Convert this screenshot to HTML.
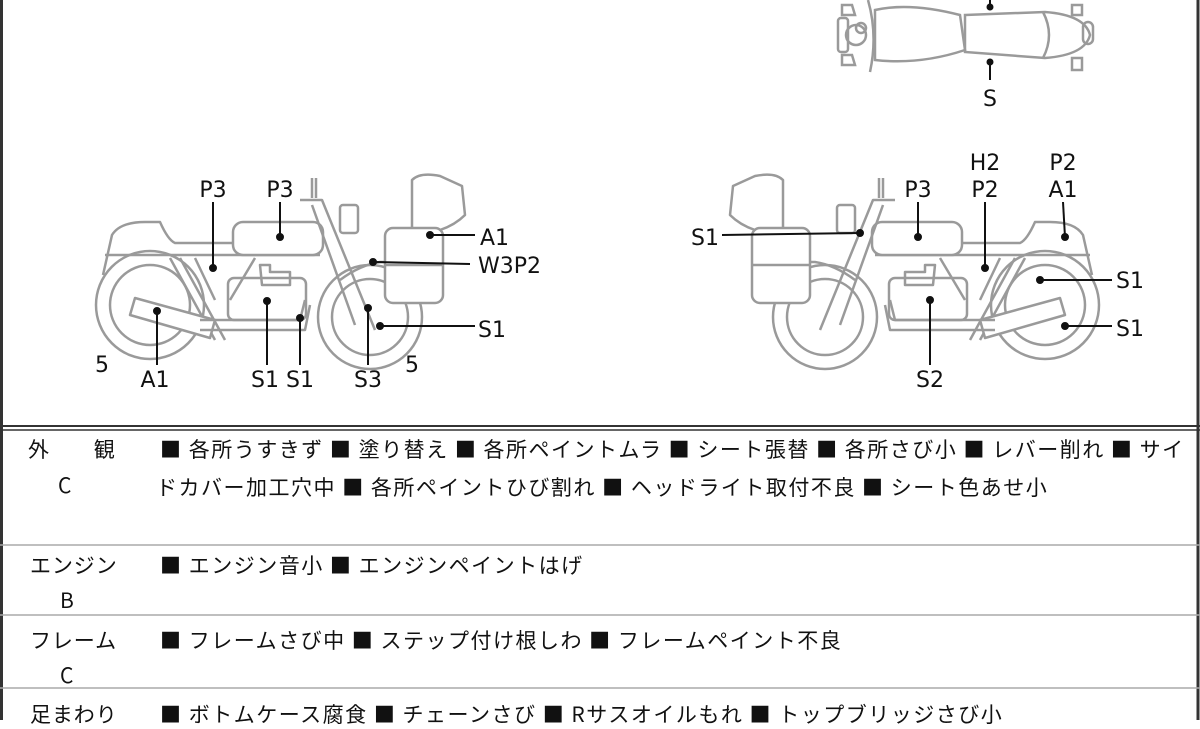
<!DOCTYPE html>
<html><head><meta charset="utf-8"><style>
body{margin:0;width:1200px;height:720px;overflow:hidden;background:#fff;font-family:"Liberation Sans","Noto Sans CJK JP",sans-serif;}
.t{position:absolute;font-size:21px;color:#111;white-space:nowrap;line-height:1;font-family:"Noto Sans CJK JP",sans-serif;letter-spacing:1.5px;}
.l{letter-spacing:0.9px;}
</style></head><body>
<svg width="1200" height="720" style="position:absolute;left:0;top:0" font-family="DejaVu Sans, sans-serif">
<defs>
<g id="bike" fill="none" stroke="#9a9a9a" stroke-width="2.5" stroke-linejoin="round">
 <circle cx="150" cy="305" r="54"/><circle cx="150" cy="305" r="40"/>
 <circle cx="370" cy="317" r="52"/><circle cx="370" cy="317" r="38"/>
 <path d="M103,275 L112,235 Q120,222 145,222 L160,222 Q168,240 175,243 L233,243"/>
 <path d="M105,255 L320,255"/>
 <rect x="233" y="222" width="90" height="33" rx="10" fill="#fff"/>
 <path d="M300,200 L322,200 L375,330" />
 <path d="M312,205 L355,325"/>
 <rect x="340" y="205" width="18" height="28" rx="3"/>
 <path d="M312,198 L312,178 M316,198 L316,178"/>
 <path d="M170,258 L215,340 M180,258 L225,340 M195,258 L215,300 M255,258 L230,300"/>
 <rect x="228" y="278" width="78" height="42" rx="6"/>
 <path d="M260,265 L270,265 L270,272 L290,272 L290,285 L262,285 Z"/>
 <path d="M135,298 L215,320 L210,338 L130,315 Z" fill="#fff"/>
 <path d="M200,320 L300,320 L305,300 M200,330 L305,330 L310,305"/>
 <path d="M340,280 Q360,265 380,262 L395,262"/>
 <path d="M412,180 Q420,172 440,176 L462,186 L465,215 Q455,225 440,230 L412,230 Z"/>
 <rect x="385" y="228" width="58" height="75" rx="8" fill="#fff"/>
 <path d="M385,265 L443,265"/>
</g>
</defs>
<use href="#bike"/>
<use href="#bike" transform="translate(1195,0) scale(-1,1)"/>
<g fill="none" stroke="#9a9a9a" stroke-width="2.5">
 <path d="M875,10 Q910,2 960,15 L965,50 Q920,65 875,60 Z"/>
 <path d="M965,15 L1045,12 Q1085,15 1090,35 Q1085,55 1045,58 L965,52 Z"/>
 <path d="M1043,12 Q1055,35 1043,58"/>
 <rect x="1083" y="22" width="10" height="22" rx="5"/>
 <circle cx="856" cy="35" r="10"/><circle cx="861" cy="28" r="5"/>
 <rect x="838" y="18" width="10" height="34" rx="3"/>
 <path d="M868,0 Q878,35 870,72"/>
 <path d="M842,5 L852,5 L855,15 L842,15 Z M842,55 L852,55 L855,65 L842,65 Z"/>
 <path d="M1072,5 L1082,5 L1082,15 L1072,15 Z M1072,58 L1082,58 L1082,70 L1072,70 Z"/>
</g>
<g stroke="#111" stroke-width="2" fill="#111">
 <line x1="990" y1="0" x2="990" y2="8"/><circle cx="990" cy="7" r="2.5"/>
 <line x1="990" y1="60" x2="990" y2="80"/><circle cx="990" cy="62" r="2.5"/>
 <line x1="213" y1="202" x2="213" y2="268"/><circle cx="213" cy="268" r="3"/>
 <line x1="280" y1="202" x2="280" y2="237"/><circle cx="280" cy="237" r="3"/>
 <line x1="430" y1="235" x2="475" y2="235"/><circle cx="430" cy="235" r="3"/>
 <line x1="373" y1="262" x2="470" y2="264"/><circle cx="373" cy="262" r="3"/>
 <line x1="380" y1="326" x2="475" y2="326"/><circle cx="380" cy="326" r="3"/>
 <line x1="157" y1="311" x2="157" y2="365"/><circle cx="157" cy="311" r="3"/>
 <line x1="267" y1="301" x2="267" y2="365"/><circle cx="267" cy="301" r="3"/>
 <line x1="300" y1="318" x2="300" y2="365"/><circle cx="300" cy="318" r="3"/>
 <line x1="368" y1="308" x2="368" y2="365"/><circle cx="368" cy="308" r="3"/>
 <line x1="722" y1="235" x2="860" y2="233"/><circle cx="860" cy="233" r="3"/>
 <line x1="918" y1="202" x2="918" y2="237"/><circle cx="918" cy="237" r="3"/>
 <line x1="985" y1="202" x2="985" y2="268"/><circle cx="985" cy="268" r="3"/>
 <line x1="1063" y1="202" x2="1065" y2="237"/><circle cx="1065" cy="237" r="3"/>
 <line x1="1040" y1="280" x2="1112" y2="280"/><circle cx="1040" cy="280" r="3"/>
 <line x1="1065" y1="326" x2="1112" y2="326"/><circle cx="1065" cy="326" r="3"/>
 <line x1="930" y1="300" x2="930" y2="365"/><circle cx="930" cy="300" r="3"/>
</g>
<g font-size="22" fill="#111" text-anchor="middle">
 <text x="990" y="106">S</text>
 <text x="213" y="197">P3</text><text x="280" y="197">P3</text>
 <text x="480" y="245" text-anchor="start">A1</text>
 <text x="478" y="273" text-anchor="start">W3P2</text>
 <text x="478" y="337" text-anchor="start">S1</text>
 <text x="102" y="372">5</text><text x="155" y="387">A1</text>
 <text x="265" y="387">S1</text><text x="300" y="387">S1</text>
 <text x="368" y="387">S3</text><text x="412" y="372">5</text>
 <text x="705" y="245">S1</text>
 <text x="918" y="197">P3</text>
 <text x="985" y="170">H2</text><text x="985" y="197">P2</text>
 <text x="1063" y="170">P2</text><text x="1063" y="197">A1</text>
 <text x="1130" y="288">S1</text><text x="1130" y="336">S1</text>
 <text x="930" y="387">S2</text>
</g>
<g stroke="#333">
 <line x1="1.5" y1="0" x2="1.5" y2="720" stroke-width="3"/>
 <line x1="1198" y1="0" x2="1198" y2="720" stroke-width="3"/>
 <line x1="0" y1="426" x2="1200" y2="426" stroke-width="2"/>
 <line x1="0" y1="430" x2="1200" y2="430" stroke-width="1.5"/>
</g>
<g stroke="#aaa" stroke-width="1.5">
 <line x1="0" y1="545" x2="1200" y2="545"/>
 <line x1="0" y1="615" x2="1200" y2="615"/>
 <line x1="0" y1="688" x2="1200" y2="688"/>
</g>
</svg>
<div class="t l" style="left:28px;top:439px">外　　観</div>
<div class="t l" style="left:58px;top:475px">C</div>
<div class="t" style="left:160px;top:439px">■ 各所うすきず ■ 塗り替え ■ 各所ペイントムラ ■ シート張替 ■ 各所さび小 ■ レバー削れ ■ サイ</div>
<div class="t" style="left:156px;top:477px">ドカバー加工穴中 ■ 各所ペイントひび割れ ■ ヘッドライト取付不良 ■ シート色あせ小</div>
<div class="t l" style="left:30px;top:555px">エンジン</div>
<div class="t l" style="left:60px;top:590px">B</div>
<div class="t" style="left:160px;top:555px">■ エンジン音小 ■ エンジンペイントはげ</div>
<div class="t l" style="left:30px;top:630px">フレーム</div>
<div class="t l" style="left:60px;top:665px">C</div>
<div class="t" style="left:160px;top:630px">■ フレームさび中 ■ ステップ付け根しわ ■ フレームペイント不良</div>
<div class="t l" style="left:30px;top:704px">足まわり</div>
<div class="t" style="left:160px;top:704px">■ ボトムケース腐食 ■ チェーンさび ■ Rサスオイルもれ ■ トップブリッジさび小</div>
</body></html>
